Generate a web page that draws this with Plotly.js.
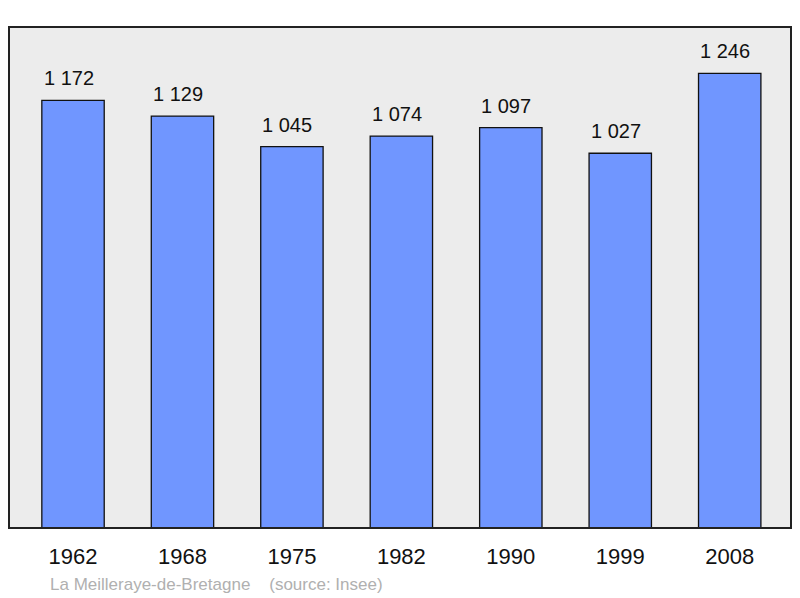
<!DOCTYPE html>
<html>
<head>
<meta charset="utf-8">
<script src="https://cdn.plot.ly/plotly-3.0.1.min.js"></script>
<style>
  html, body { margin: 0; padding: 0; background: #fff; }
  #chart { width: 800px; height: 598px; }
</style>
</head>
<body>
<div id="chart"></div>
<script>
// population par recensement
var annees = ['1962', '1968', '1975', '1982', '1990', '1999', '2008'];
var population = [1172, 1129, 1045, 1074, 1097, 1027, 1246];
var etiquettes = ['1 172', '1 129', '1 045', '1 074', '1 097', '1 027', '1 246'];

var barres = {
  x: annees,
  y: population,
  type: 'bar',
  width: 0.57,
  marker: {
    color: 'rgb(112, 150, 255)',
    line: { color: '#111', width: 1.3 }
  },
  hoverinfo: 'none'
};

// on category axes the annotation x is the category index
var notes = annees.map(function (a, i) {
  return {
    x: i, y: population[i], xref: 'x', yref: 'y',
    text: etiquettes[i], showarrow: false,
    yanchor: 'bottom', yshift: 9, xshift: -4.5,
    font: { family: 'Liberation Sans, Arial, sans-serif', size: 20, color: '#111' }
  };
});

notes.push({
  xref: 'paper', yref: 'paper', x: 0.05, y: -0.112,
  xanchor: 'left', yanchor: 'middle', showarrow: false,
  text: 'La Meilleraye-de-Bretagne&nbsp;&nbsp;&nbsp;&nbsp;(source: Insee)',
  font: { family: 'Liberation Sans, Arial, sans-serif', size: 17, color: '#b0b0b0' }
});

var layout = {
  width: 800,
  height: 598,
  margin: { l: 9, r: 9, t: 27, b: 70 },
  paper_bgcolor: '#fff',
  plot_bgcolor: '#ececec',
  showlegend: false,
  xaxis: {
    type: 'category',
    range: [-0.585, 6.56],
    showgrid: false,
    zeroline: false,
    ticks: 'outside',
    ticklen: 9,
    tickcolor: 'rgba(0,0,0,0)',
    tickfont: { family: 'Liberation Sans, Arial, sans-serif', size: 22, color: '#111' },
    fixedrange: true
  },
  yaxis: {
    range: [0, 1373],
    showgrid: false,
    zeroline: false,
    showticklabels: false,
    fixedrange: true
  },
  shapes: [{
    type: 'rect', xref: 'paper', yref: 'paper',
    x0: 0, x1: 1, y0: 0, y1: 1,
    line: { color: '#222', width: 2 }
  }],
  annotations: notes
};

Plotly.newPlot('chart', [barres], layout, { displayModeBar: false, staticPlot: true });
</script>
</body>
</html>
